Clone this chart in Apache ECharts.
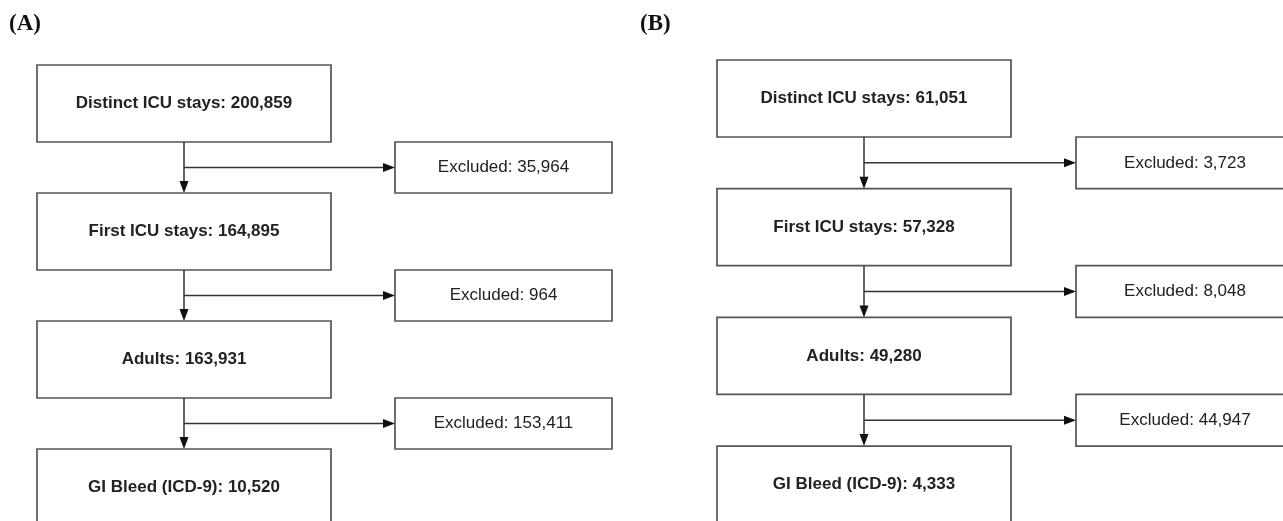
<!DOCTYPE html>
<html><head><meta charset="utf-8">
<script src="https://cdn.jsdelivr.net/npm/echarts@6/dist/echarts.min.js"></script>
<style>html,body{margin:0;padding:0;background:#fff}#chart{width:1283px;height:521px}</style>
</head><body><div id="chart"></div>
<script>
// ---- data ----
const panelLabels = ['(A)', '(B)'];
const stageNames = ['Distinct ICU stays', 'First ICU stays', 'Adults', 'GI Bleed (ICD-9)'];
const countsA = [200859, 164895, 163931, 10520];
const countsB = [61051, 57328, 49280, 4333];
const excludedA = [35964, 964, 153411];
const excludedB = [3723, 8048, 44947];

// ---- layout (in axis units = pixels) ----
const layout = [
  {boxX: 37, boxW: 294, top: 65, pitch: 128, boxH: 77, exclX: 395, exclW: 217, exclH: 51, labelX: 9},
  {boxX: 717, boxW: 294, top: 60, pitch: 128.7, boxH: 77, exclX: 1076, exclW: 218, exclH: 51.7, labelX: 640}
];
const counts = [countsA, countsB];
const excluded = [excludedA, excludedB];

const data = [];
for (let p = 0; p < 2; p++) {
  for (let s = 0; s < stageNames.length; s++) {
    data.push([p, s, counts[p][s], s < excluded[p].length ? excluded[p][s] : -1]);
  }
}
const fmt = v => v.toLocaleString('en-US');

const BOX_STROKE = '#555';
const LINE = '#333';
const TXT = '#222';

function renderItem(params, api) {
  const p = api.value(0), s = api.value(1), cnt = api.value(2), exc = api.value(3);
  const L = layout[p];
  const top = L.top + s * L.pitch;
  const bot = top + L.boxH;
  const cxv = L.boxX + L.boxW / 2;
  const tl = api.coord([L.boxX, top]);
  const br = api.coord([L.boxX + L.boxW, bot]);
  const c = api.coord([cxv, top + L.boxH / 2]);
  const children = [
    {type: 'rect', shape: {x: tl[0], y: tl[1], width: br[0] - tl[0], height: br[1] - tl[1]},
     style: {fill: 'none', stroke: BOX_STROKE, lineWidth: 1.7}},
    {type: 'text', style: {text: stageNames[s] + ': ' + fmt(cnt), x: c[0], y: c[1],
      align: 'center', verticalAlign: 'middle', font: 'bold 17px "Liberation Sans", Arial, sans-serif', fill: TXT}}
  ];
  if (exc >= 0) {
    const nextTop = L.top + (s + 1) * L.pitch;
    const by = bot + L.exclH / 2;
    const a1 = api.coord([cxv, bot]);
    const a2 = api.coord([cxv, nextTop]);
    const h1 = api.coord([cxv, by]);
    const h2 = api.coord([L.exclX, by]);
    const aL = 12, aW = 4.5;
    children.push(
      {type: 'line', shape: {x1: a1[0], y1: a1[1], x2: a2[0], y2: a2[1] - aL + 1}, style: {stroke: LINE, lineWidth: 1.5}},
      {type: 'polygon', shape: {points: [[a2[0] - aW, a2[1] - aL], [a2[0] + aW, a2[1] - aL], [a2[0], a2[1]]]}, style: {fill: '#111'}},
      {type: 'line', shape: {x1: h1[0], y1: h1[1], x2: h2[0] - aL + 1, y2: h2[1]}, style: {stroke: LINE, lineWidth: 1.5}},
      {type: 'polygon', shape: {points: [[h2[0] - aL, h2[1] - aW], [h2[0] - aL, h2[1] + aW], [h2[0], h2[1]]]}, style: {fill: '#111'}}
    );
    const etl = api.coord([L.exclX, bot]);
    const ebr = api.coord([L.exclX + L.exclW, bot + L.exclH]);
    children.push(
      {type: 'rect', shape: {x: etl[0], y: etl[1], width: ebr[0] - etl[0], height: ebr[1] - etl[1]},
       style: {fill: 'none', stroke: BOX_STROKE, lineWidth: 1.7}},
      {type: 'text', style: {text: 'Excluded: ' + fmt(exc), x: (etl[0] + ebr[0]) / 2, y: (etl[1] + ebr[1]) / 2,
        align: 'center', verticalAlign: 'middle', font: '17px "Liberation Sans", Arial, sans-serif', fill: TXT}}
    );
  }
  return {type: 'group', children: children};
}

const chart = echarts.init(document.getElementById('chart'));
chart.setOption({
  backgroundColor: '#ffffff',
  animation: false,
  title: panelLabels.map((t, i) => ({
    text: t, left: layout[i].labelX, top: 13, padding: 0,
    textStyle: {fontFamily: '"Liberation Serif", "Times New Roman", serif', fontWeight: 'bold', fontSize: 23, color: '#111'}
  })),
  grid: {left: 0, right: 0, top: 0, bottom: 0},
  xAxis: {type: 'value', min: 0, max: 1283, show: false},
  yAxis: {type: 'value', min: 0, max: 521, inverse: true, show: false},
  series: [{type: 'custom', renderItem: renderItem, data: data, clip: false, silent: true}]
});
</script>
</body></html>
